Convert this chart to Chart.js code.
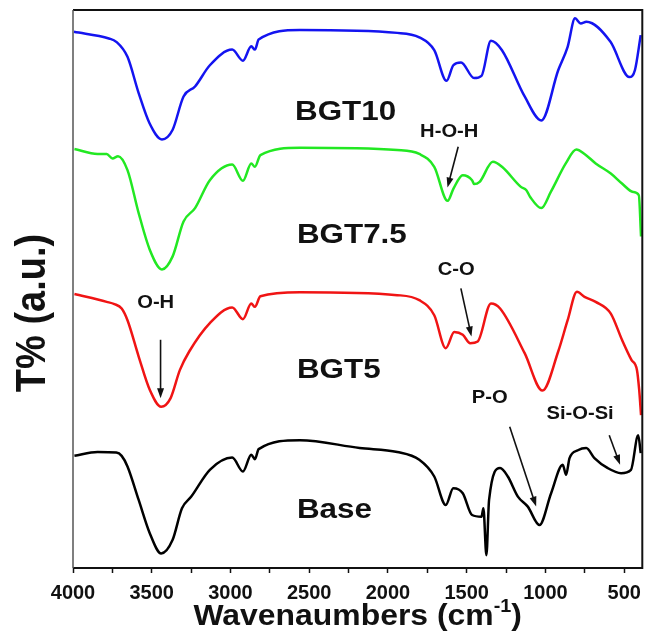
<!DOCTYPE html>
<html>
<head>
<meta charset="utf-8">
<script src="https://cdn.jsdelivr.net/npm/chart.js@4.4.1/dist/chart.umd.min.js"></script>
<style>
  html, body { margin: 0; padding: 0; background: #fff; }
  .chart-box { position: relative; width: 649px; height: 636px; }
</style>
</head>
<body>
<div class="chart-box"><canvas id="ftirChart"></canvas></div>
<script>
// FTIR spectra: wavenumber (cm-1) and transmittance (a.u., offset per sample)
const seriesNames = ['BGT10', 'BGT7.5', 'BGT5', 'Base'];

const bgt10Wave = [3994, 3772, 3725, 3654, 3583, 3514, 3435, 3368, 3298, 3225, 3131, 2989, 2921, 2868, 2845, 2821, 2559, 1941, 1801, 1706, 1628, 1585, 1536, 1453, 1406, 1346, 1276, 1132, 1026, 919, 859, 812, 776, 740, 587, 467, 432, 395];
const bgt10T = [96.1, 94.9, 94.3, 91.6, 85.1, 79.7, 76.8, 78.5, 84.5, 86.3, 90.1, 92.9, 90.9, 93.5, 92.9, 94.7, 96.4, 95.9, 95.1, 92.8, 87.3, 90.1, 90.6, 87.8, 88.2, 94.5, 92.8, 84.5, 80.2, 89.2, 93.4, 98.5, 97.6, 97.9, 94.3, 88.0, 89.2, 95.5];

const bgt75Wave = [3991, 3844, 3786, 3749, 3714, 3654, 3583, 3512, 3435, 3368, 3298, 3225, 3131, 2989, 2921, 2868, 2845, 2810, 2559, 1941, 1801, 1706, 1621, 1584, 1525, 1466, 1453, 1418, 1334, 1276, 1156, 1121, 1097, 1026, 966, 871, 804, 752, 681, 585, 514, 443, 407, 393];
const bgt75T = [75.1, 74.2, 74.2, 73.4, 73.8, 71.3, 63.6, 57.0, 53.5, 55.8, 62.1, 64.5, 69.5, 72.3, 69.4, 72.5, 71.9, 74.0, 75.3, 74.9, 74.2, 71.9, 65.8, 68.0, 70.4, 69.5, 68.8, 69.2, 72.8, 71.9, 68.3, 67.7, 66.5, 64.5, 67.4, 72.5, 75.0, 74.2, 72.5, 70.7, 68.9, 67.4, 66.8, 59.4];

const bgt5Wave = [3991, 3786, 3737, 3691, 3654, 3583, 3512, 3440, 3381, 3321, 3262, 3131, 2989, 2921, 2868, 2845, 2810, 2559, 1941, 1801, 1706, 1633, 1579, 1525, 1478, 1430, 1346, 1288, 1132, 1019, 919, 859, 800, 752, 681, 585, 514, 454, 419, 405, 393];
const bgt5T = [49.1, 47.7, 47.3, 46.5, 44.4, 37.9, 31.9, 28.9, 30.4, 35.5, 38.8, 43.9, 46.7, 44.6, 47.4, 46.8, 48.7, 49.4, 48.9, 48.0, 45.3, 39.4, 42.3, 41.8, 40.3, 40.6, 47.4, 46.5, 38.5, 31.8, 38.8, 44.4, 49.5, 48.6, 47.7, 45.6, 40.9, 37.3, 35.5, 32.0, 27.4];

const baseWave = [3991, 3844, 3725, 3691, 3654, 3583, 3512, 3440, 3368, 3308, 3249, 3131, 2989, 2921, 2868, 2845, 2821, 2559, 2180, 1941, 1801, 1706, 1633, 1585, 1525, 1466, 1406, 1394, 1375, 1358, 1288, 1239, 1175, 1112, 1038, 964, 890, 869, 847, 794, 741, 689, 604, 520, 457, 411, 395];
const baseT = [20.1, 20.8, 20.7, 20.1, 18.2, 12.2, 6.2, 2.6, 5.0, 10.7, 12.8, 17.6, 19.8, 17.3, 20.3, 19.5, 21.3, 22.9, 21.5, 20.8, 19.4, 16.4, 11.3, 14.3, 13.4, 9.5, 9.2, 10.7, 2.3, 12.2, 17.9, 16.4, 12.8, 11.0, 7.7, 13.4, 18.5, 16.7, 19.7, 21.1, 21.5, 19.7, 17.9, 17.0, 17.6, 23.8, 20.6];

const xTickLabels = [4000, 3500, 3000, 2500, 2000, 1500, 1000, 500];
const xMinorTicks = [3750, 3250, 2750, 2250, 1750, 1250, 750];

const FONT = "'Liberation Sans', Arial, sans-serif";
const STRETCH = 1.12; // text in the source figure is a bit wider than Arial

function pairs(wave, t) {
    return wave.map((w, i) => ({ x: w, y: t[i] }));
}

// where the text labels and arrows sit, in data units
const sampleLabels = [
    { text: seriesNames[0], x: 2590, y: 81.7 },
    { text: seriesNames[1], x: 2578, y: 59.7 },
    { text: seriesNames[2], x: 2578, y: 35.5 },
    { text: seriesNames[3], x: 2578, y: 10.4 }
];
const bandNotes = [
    { text: 'O-H', at: [3475, 47.5], from: [3444, 40.9], to: [3444, 30.4] },
    { text: 'H-O-H', at: [1611, 78.2], from: [1554, 75.5], to: [1622, 68.2] },
    { text: 'C-O', at: [1567, 53.4], from: [1537, 50.1], to: [1470, 41.5] },
    { text: 'P-O', at: [1354, 30.5], from: [1227, 25.3], to: [1059, 11.0] },
    { text: 'Si-O-Si', at: [780, 27.6], from: [595, 23.8], to: [526, 18.5] }
];

function drawText(ctx, text, x, y, size, align) {
    ctx.save();
    ctx.font = 'bold ' + size + 'px ' + FONT;
    ctx.textBaseline = 'middle';
    ctx.fillStyle = '#111';
    const w = ctx.measureText(text).width * STRETCH;
    let left = x;
    if (align === 'center') left = x - w / 2;
    ctx.translate(left, y);
    ctx.scale(STRETCH, 1);
    ctx.textAlign = 'left';
    ctx.fillText(text, 0, 0);
    ctx.restore();
}

function drawArrow(ctx, x1, y1, x2, y2) {
    const ang = Math.atan2(y2 - y1, x2 - x1);
    const head = 10, half = 3.5;
    ctx.save();
    ctx.strokeStyle = '#111';
    ctx.fillStyle = '#111';
    ctx.lineWidth = 1.6;
    ctx.beginPath();
    ctx.moveTo(x1, y1);
    ctx.lineTo(x2 - Math.cos(ang) * head * 0.8, y2 - Math.sin(ang) * head * 0.8);
    ctx.stroke();
    ctx.beginPath();
    ctx.moveTo(x2, y2);
    ctx.lineTo(x2 - Math.cos(ang) * head - Math.sin(ang) * half, y2 - Math.sin(ang) * head + Math.cos(ang) * half);
    ctx.lineTo(x2 - Math.cos(ang) * head + Math.sin(ang) * half, y2 - Math.sin(ang) * head - Math.cos(ang) * half);
    ctx.closePath();
    ctx.fill();
    ctx.restore();
}

const decorPlugin = {
    id: 'decor',
    beforeDraw(chart) {
        const ctx = chart.ctx;
        ctx.save();
        ctx.fillStyle = '#fff';
        ctx.fillRect(0, 0, chart.width, chart.height);
        ctx.restore();
    },
    afterDraw(chart) {
        const ctx = chart.ctx;
        const xs = chart.scales.x, ys = chart.scales.y;
        const a = chart.chartArea;

        // frame
        ctx.save();
        ctx.strokeStyle = '#111';
        ctx.lineWidth = 2;
        ctx.beginPath();
        ctx.moveTo(a.left, a.top);
        ctx.lineTo(a.right, a.top);
        ctx.lineTo(a.right, a.bottom);
        ctx.lineTo(a.left, a.bottom);
        ctx.stroke();
        ctx.strokeStyle = '#555';
        ctx.lineWidth = 1.5;
        ctx.beginPath();
        ctx.moveTo(a.left, a.top);
        ctx.lineTo(a.left, a.bottom);
        ctx.stroke();
        ctx.restore();

        sampleLabels.forEach(l => {
            drawText(ctx, l.text, xs.getPixelForValue(l.x), ys.getPixelForValue(l.y), 28, 'left');
        });
        bandNotes.forEach(n => {
            drawText(ctx, n.text, xs.getPixelForValue(n.at[0]), ys.getPixelForValue(n.at[1]), 18, 'center');
            drawArrow(ctx,
                xs.getPixelForValue(n.from[0]), ys.getPixelForValue(n.from[1]),
                xs.getPixelForValue(n.to[0]), ys.getPixelForValue(n.to[1]));
        });

        // x title with superscript
        ctx.save();
        const main = 'Wavenaumbers (cm', sup = '-1', tail = ')';
        const big = 29, small = 18, sx = 1.1;
        ctx.font = 'bold ' + big + 'px ' + FONT;
        const w1 = ctx.measureText(main).width * sx;
        const w3 = ctx.measureText(tail).width * sx;
        ctx.font = 'bold ' + small + 'px ' + FONT;
        const w2 = ctx.measureText(sup).width * sx;
        const total = w1 + w2 + w3;
        const cx = (a.left + a.right) / 2;
        let x0 = cx - total / 2;
        const base = 625;
        ctx.fillStyle = '#111';
        ctx.textBaseline = 'alphabetic';
        ctx.textAlign = 'left';
        [[main, big, 0, w1], [sup, small, -13, w2], [tail, big, 0, w3]].forEach(p => {
            ctx.save();
            ctx.font = 'bold ' + p[1] + 'px ' + FONT;
            ctx.translate(x0, base + p[2]);
            ctx.scale(sx, 1);
            ctx.fillText(p[0], 0, 0);
            ctx.restore();
            x0 += p[3];
        });
        ctx.restore();

        // y title
        ctx.save();
        ctx.translate(33, 313);
        ctx.rotate(-Math.PI / 2);
        ctx.scale(1, STRETCH);
        ctx.font = 'bold 38px ' + FONT;
        ctx.fillStyle = '#111';
        ctx.textAlign = 'center';
        ctx.textBaseline = 'middle';
        ctx.fillText('T% (a.u.)', 0, 0);
        ctx.restore();
    }
};

const ctx = document.getElementById('ftirChart').getContext('2d');
new Chart(ctx, {
    type: 'line',
    data: {
        datasets: [{
            label: seriesNames[0],
            data: pairs(bgt10Wave, bgt10T),
            borderColor: '#1414f0'
        }, {
            label: seriesNames[1],
            data: pairs(bgt75Wave, bgt75T),
            borderColor: '#22e822'
        }, {
            label: seriesNames[2],
            data: pairs(bgt5Wave, bgt5T),
            borderColor: '#f01414'
        }, {
            label: seriesNames[3],
            data: pairs(baseWave, baseT),
            borderColor: '#000000'
        }]
    },
    options: {
        responsive: true,
        maintainAspectRatio: false,
        animation: false,
        layout: { padding: { top: 10, right: 4, left: 0, bottom: 0 } },
        plugins: {
            legend: { display: false },
            tooltip: { enabled: false }
        },
        elements: {
            point: { radius: 0 },
            line: { borderWidth: 2.5, cubicInterpolationMode: 'monotone', fill: false }
        },
        scales: {
            x: {
                type: 'linear',
                reverse: true,
                min: 385,
                max: 4000,
                afterFit: (scale) => { scale.height = 68; },
                afterBuildTicks: (scale) => {
                    scale.ticks = xTickLabels.concat(xMinorTicks)
                        .sort((p, q) => q - p)
                        .map(v => ({ value: v }));
                },
                border: { display: false },
                grid: {
                    drawOnChartArea: false,
                    drawTicks: true,
                    tickLength: 5,
                    tickWidth: 1.5,
                    tickColor: '#111'
                },
                ticks: {
                    autoSkip: false,
                    maxRotation: 0,
                    padding: 8,
                    color: '#111',
                    font: { family: FONT, size: 20, weight: 'bold' },
                    callback: (v) => xTickLabels.includes(v) ? String(v) : ''
                }
            },
            y: {
                min: 0,
                max: 100,
                afterFit: (scale) => { scale.width = 73; },
                border: { display: false },
                grid: { display: false },
                ticks: { display: false }
            }
        }
    },
    plugins: [decorPlugin]
});
</script>
</body>
</html>
